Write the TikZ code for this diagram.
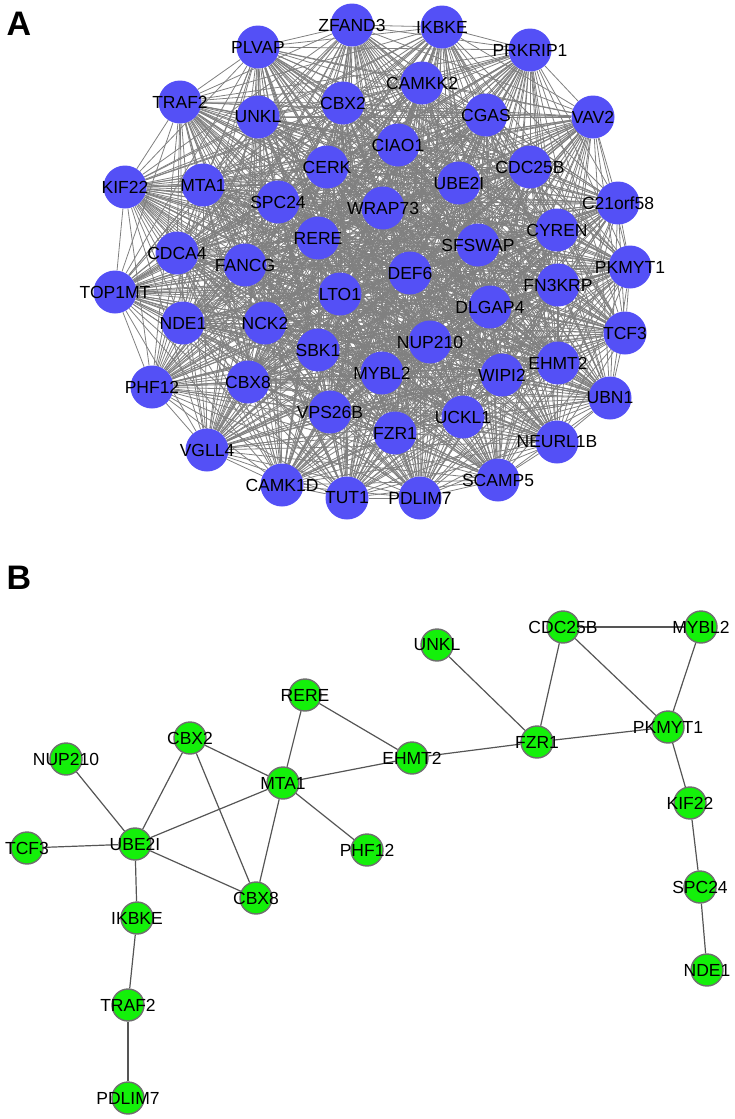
\documentclass[tikz,border=0pt]{standalone}
\usepackage{fontspec}
\setmainfont{Liberation Sans}
\usepackage{tikz}
\usetikzlibrary{backgrounds}
\definecolor{nodeblue}{RGB}{84,80,246}
\definecolor{nodegreen}{RGB}{20,240,10}
\definecolor{edgegrey}{RGB}{128,128,128}
\definecolor{rimgrey}{RGB}{110,110,110}
\definecolor{linkgrey}{RGB}{85,85,85}

\begin{document}
\begin{tikzpicture}[
  x=1pt, y=-1pt,
  font=\fontsize{17.5}{18}\selectfont,
  an/.style={circle, fill=nodeblue, minimum size=43pt, inner sep=0pt},
  bn/.style={circle, fill=nodegreen, draw=rimgrey, line width=1.4pt, minimum size=32pt, inner sep=0pt},
  tx/.style={inner sep=0pt, text=black},
  ea/.style={edgegrey, line width=0.8pt},
  eb/.style={linkgrey, line width=1.2pt},
  pl/.style={inner sep=0pt, font=\fontsize{34}{34}\selectfont\bfseries}
]
\useasboundingbox (0,0) rectangle (735,1119);
\node[pl] (pA) at (19,24) {A};
\node[pl] (pB) at (19,578) {B};

\def\alist{PLVAP,ZFAND3,IKBKE,PRKRIP1,TRAF2,UNKL,CBX2,CAMKK2,CGAS,VAV2,CIAO1,CERK,KIF22,MTA1,SPC24,UBE2I,CDC25B,WRAP73,C21orf58,RERE,CDCA4,FANCG,SFSWAP,CYREN,TOP1MT,DEF6,FN3KRP,PKMYT1,LTO1,DLGAP4,NDE1,NCK2,NUP210,TCF3,SBK1,MYBL2,WIPI2,EHMT2,PHF12,CBX8,UBN1,VPS26B,UCKL1,FZR1,NEURL1B,VGLL4,CAMK1D,SCAMP5,TUT1,PDLIM7}
\def\apos{PLVAP/258/47, ZFAND3/352/25, IKBKE/442/27, PRKRIP1/530/50, TRAF2/180/102,
  UNKL/258/117, CBX2/343/103, CAMKK2/422/83, CGAS/486/115, VAV2/593/117,
  CIAO1/398/145, CERK/327/167, KIF22/125/187, MTA1/203/185, SPC24/278/202,
  UBE2I/459/183, CDC25B/530/167, WRAP73/383/208, C21orf58/618/203, RERE/318/238,
  CDCA4/177/253, FANCG/245/265, SFSWAP/478/245, CYREN/557/230, TOP1MT/115/292,
  DEF6/410/273, FN3KRP/558/285, PKMYT1/630/267, LTO1/340/294, DLGAP4/490/307,
  NDE1/183/323, NCK2/265/323, NUP210/430/342, TCF3/625/333, SBK1/318/350,
  MYBL2/382/373, WIPI2/502/375, EHMT2/558/363, PHF12/152/387, CBX8/248/382,
  UBN1/610/398, VPS26B/330/412, UCKL1/463/417, FZR1/395/433, NEURL1B/557/442,
  VGLL4/207/450, CAMK1D/282/485, SCAMP5/498/480, TUT1/347/498, PDLIM7/420/498}

\foreach \n/\x/\y in \apos
  \node[an] (a\n) at (\x,\y) {};
\foreach \n/\x/\y in \apos
  \node[tx] (ta\n) at (a\n) {\n};
\begin{scope}[on background layer]
  \foreach \p [count=\i] in \alist {
    \foreach \q [count=\j] in \alist {
      \ifnum\j>\i\relax \draw[ea] (a\p) -- (a\q); \fi
    }
  }
\end{scope}

\def\bpos{RERE/305/695, CBX2/190/738, NUP210/66/759, MTA1/283/783, EHMT2/412/758,
  UBE2I/135/844, TCF3/27/848, PHF12/367/850, CBX8/256/898, IKBKE/137/918,
  TRAF2/128/1005, PDLIM7/128/1098, UNKL/437/645, CDC25B/563/627, MYBL2/701/627,
  PKMYT1/668/727, FZR1/537/742, KIF22/690/803, SPC24/700/887, NDE1/707/970}

\foreach \n/\x/\y in \bpos
  \node[bn] (b\n) at (\x,\y) {};
\foreach \n/\x/\y in \bpos
  \node[tx] (tb\n) at (b\n) {\n};
\begin{scope}[on background layer]
  \foreach \p/\q in {RERE/MTA1, RERE/EHMT2, CBX2/MTA1, CBX2/UBE2I, CBX2/CBX8,
    NUP210/UBE2I, MTA1/EHMT2, MTA1/UBE2I, MTA1/PHF12, MTA1/CBX8, TCF3/UBE2I,
    UBE2I/CBX8, UBE2I/IKBKE, IKBKE/TRAF2, TRAF2/PDLIM7, EHMT2/FZR1, UNKL/FZR1,
    CDC25B/FZR1, CDC25B/MYBL2, CDC25B/PKMYT1, MYBL2/PKMYT1, FZR1/PKMYT1,
    PKMYT1/KIF22, KIF22/SPC24, SPC24/NDE1}
    \draw[eb] (b\p) -- (b\q);
\end{scope}
\end{tikzpicture}
\end{document}
